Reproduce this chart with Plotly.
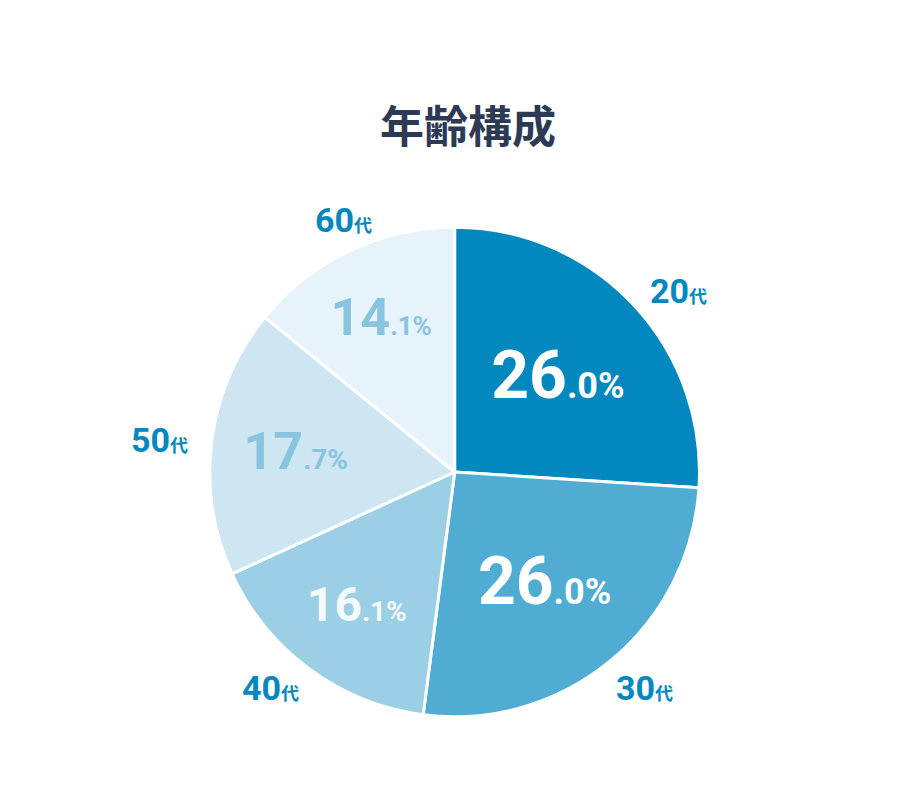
import plotly.graph_objects as go

labels = ["20代", "30代", "40代", "50代", "60代"]
values = [26.0, 26.0, 16.1, 17.7, 14.1]
colors = ["#0288be", "#50acd2", "#9bcfe5", "#cde6f2", "#e6f3fa"]
text_colors = ["#ffffff", "#ffffff", "#f4fafd", "#88c4e0", "#88c4e0"]
big_sizes = [66, 66, 48, 52, 52]
small_sizes = [36, 36, 28, 28, 26]

texts = []
for v, b, s in zip(values, big_sizes, small_sizes):
    whole, dec = f"{v:.1f}".split(".")
    texts.append(f"<b><span style='font-size:{b}px'>{whole}</span>"
                 f"<span style='font-size:{s}px'>.{dec}%</span></b>")

fig = go.Figure(go.Pie(
    labels=labels, values=values, sort=False, direction="clockwise", rotation=0,
    marker=dict(colors=colors, line=dict(color="white", width=3)),
    text=texts, textinfo="text", textposition="inside",
    insidetextorientation="horizontal",
    textfont=dict(family="Roboto", color=text_colors),
    domain=dict(x=[0.219, 0.752], y=[0.114, 0.726]),
    showlegend=False, hoverinfo="label+percent",
))

# outside labels
label_pos = [(0.762, 0.674), (0.725, 0.122), (0.252, 0.122), (0.132, 0.46), (0.332, 0.762)]
for lab, (x, y) in zip(labels, label_pos):
    fig.add_annotation(
        x=x, y=y, xref="paper", yref="paper", showarrow=False,
        text=f"<b>{lab[:2]}</b><span style='font-size:18px'><b>{lab[2:]}</b></span>",
        font=dict(family="Roboto, Noto Sans CJK JP", size=34, color="#0288be"),
    )

fig.update_layout(
    width=920, height=800, margin=dict(l=0, r=0, t=0, b=0),
    paper_bgcolor="white", plot_bgcolor="white",
    title=dict(text="<b>年齢構成</b>", x=0.5, xanchor="center", y=0.85, yanchor="middle",
               font=dict(family="Noto Sans CJK JP", size=44, color="#2d3a55")),
)

fig.write_html("out.html")
